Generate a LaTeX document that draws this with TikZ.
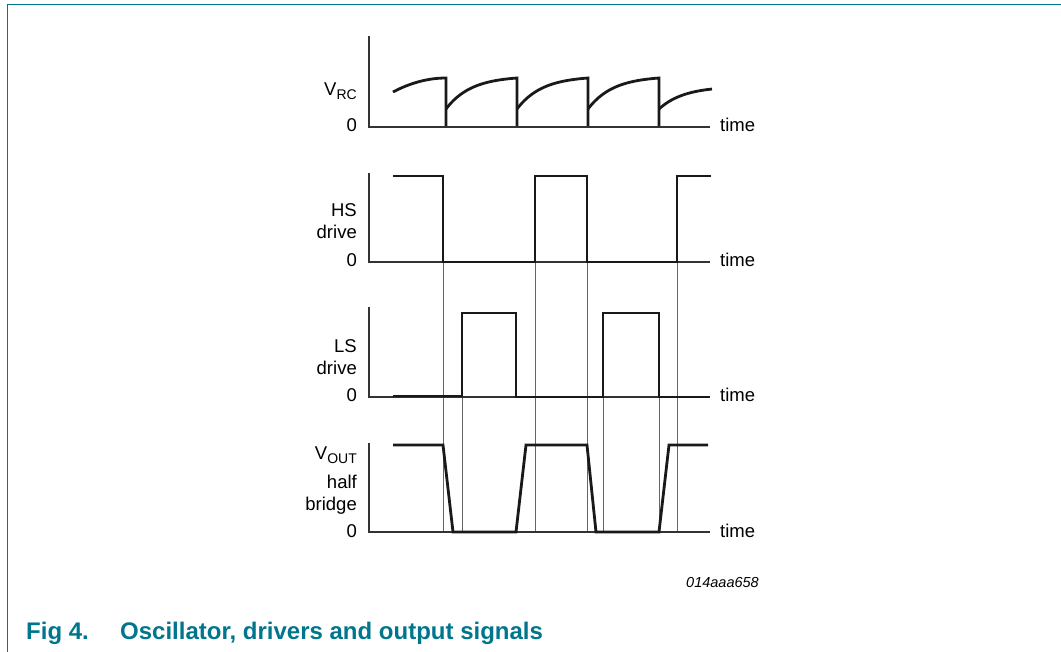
\documentclass[tikz,border=0pt]{standalone}
\usepackage{fontspec}
\setmainfont{Liberation Sans}
\definecolor{nxp}{RGB}{0,118,142}
\begin{document}
\begin{tikzpicture}[x=1pt,y=-1pt,
  axis/.style={line width=1.1pt,black!80},
  wave/.style={line width=2.8pt,black!90,line join=miter},
  guide/.style={line width=0.8pt,black!60},
  lbl/.style={anchor=base east,inner sep=0pt,font=\fontsize{18.5}{20}\selectfont},
  tlbl/.style={anchor=base west,inner sep=0pt,font=\fontsize{18.5}{20}\selectfont},
  frame/.style={line width=1.5pt,nxp},
  capt/.style={anchor=base west,inner sep=0pt,text=nxp,font=\fontsize{24}{26}\selectfont\bfseries}]
\useasboundingbox (0,0) rectangle (1061,652);
% frame
\coordinate (fbl) at (7.5,652);
\coordinate (ftl) at (7.5,4.5);
\coordinate (ftr) at (1061,4.5);
\draw[frame] (fbl) -- (ftl) -- (ftr);

% guide lines
\foreach \gx in {443,535,587,677}{\draw[guide] (\gx,262) -- (\gx,532);}
\foreach \gx in {462,603,659}{\draw[guide] (\gx,397) -- (\gx,532);}

% axes
\foreach \ytop/\ybot in {36/127,173/262,307/397,443/532}{
  \draw[axis] (369,\ytop) -- (369,\ybot) -- (710,\ybot);}

% V_RC
\draw[wave] (393,92) .. controls (410,83) and (428,78) .. (446,78) -- (446,126);
\foreach \sx in {446,517,588}{
  \draw[wave] plot[domain=0:71,samples=40] ({\sx+\x},{109-31*(1-exp(-\x/25))/(1-exp(-71/25))}) -- (\sx+71,126);}
\draw[wave] plot[domain=0:53,samples=30] ({659+\x},{109-22.7*(1-exp(-\x/25))});

% HS drive
\draw[wave] (393,176) -- (443,176) -- (443,262) -- (535,262) -- (535,176) -- (587,176) -- (587,262) -- (677,262) -- (677,176) -- (711,176);
% LS drive
\draw[wave] (393,396) -- (462,396) -- (462,313) -- (516,313) -- (516,397) -- (603,397) -- (603,313) -- (659,313) -- (659,397) -- (710,397);
% VOUT
\draw[wave] (393,445) -- (443,445) -- (453,532) -- (516,532) -- (526,445) -- (587,445) -- (596,532) -- (659,532) -- (669,445) -- (708,445);

% labels
\node[lbl] (lvrc) at (357,96) {V\raisebox{-4pt}{\fontsize{14}{14}\selectfont RC}};
\node[lbl] (l0a) at (357,132) {0};
\node[lbl] (lhs) at (357,217) {HS};
\node[lbl] (lhsd) at (357,239) {drive};
\node[lbl] (l0b) at (357,267) {0};
\node[lbl] (lls) at (357,353) {LS};
\node[lbl] (llsd) at (357,375) {drive};
\node[lbl] (l0c) at (357,402) {0};
\node[lbl] (lvout) at (357,460) {V\raisebox{-4pt}{\fontsize{14}{14}\selectfont OUT}};
\node[lbl] (lhalf) at (357,488) {half};
\node[lbl] (lbr) at (357,510) {bridge};
\node[lbl] (l0d) at (357,537) {0};
\foreach \ty/\tn in {132/ta,267/tb,402/tc,537/td}{\node[tlbl] (\tn) at (720,\ty) {time};}

\node[anchor=base,inner sep=0pt,font=\fontsize{14.5}{16}\selectfont\itshape] (fid) at (722.5,587) {014aaa658};
\node[capt] (cfig) at (26,639) {Fig 4.};
\node[capt] (ctext) at (120,639) {Oscillator, drivers and output signals};
\end{tikzpicture}
\end{document}
